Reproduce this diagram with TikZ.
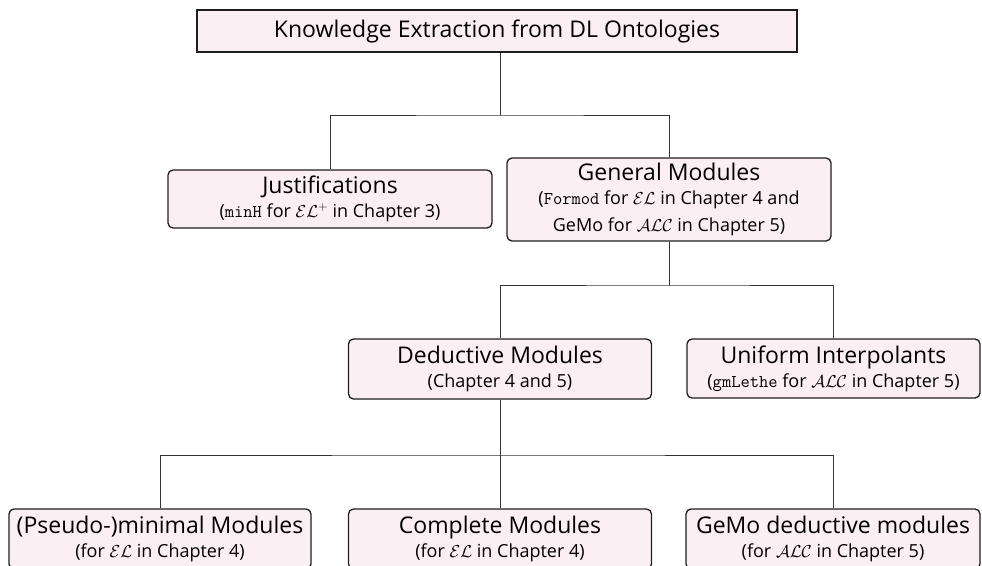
\documentclass[tikz,border=0pt]{standalone}
\usepackage{fontspec}
\setmainfont{Open Sans}
\definecolor{boxfill}{RGB}{251,239,243}
\definecolor{boxline}{RGB}{30,30,30}
\newcommand{\subfont}{\fontsize{18}{23}\selectfont}
\begin{document}
\begin{tikzpicture}[x=1pt,y=-1pt,
  box/.style={draw=boxline,line width=1.3pt,fill=boxfill,rounded corners=5pt,
    inner sep=0pt,align=center,font=\fontsize{23}{27}\selectfont},
  topbox/.style={box,rounded corners=0pt},
  conn/.style={draw=black!80,line width=0.9pt}]
\useasboundingbox (0,0) rectangle (982,565);
\clip (0,0) rectangle (982,565);
\node[topbox,minimum width=600pt,minimum height=42pt] (top) at (497,31) {Knowledge Extraction from DL Ontologies};
\node[box,minimum width=324pt,minimum height=58pt] (just) at (330,199)
  {Justifications\\[-3pt]\subfont(\texttt{minH} for $\mathcal{EL}^+$ in Chapter 3)};
\node[box,minimum width=324pt,minimum height=83pt] (gen) at (669,199.5)
  {General Modules\\[-3pt]\subfont(\texttt{Formod} for $\mathcal{EL}$ in Chapter 4 and\\\subfont GeMo for $\mathcal{ALC}$ in Chapter 5)};
\node[box,minimum width=303pt,minimum height=60pt] (ded) at (500,369)
  {Deductive Modules\\[-3pt]\subfont(Chapter 4 and 5)};
\node[box,minimum width=293pt,minimum height=59pt] (uni) at (833.5,368.5)
  {Uniform Interpolants\\[-3pt]\subfont(\texttt{gmLethe} for $\mathcal{ALC}$ in Chapter 5)};
\node[box,minimum width=302pt,minimum height=60pt] (pseudo) at (160,539)
  {(Pseudo-)minimal Modules\\[-3pt]\subfont(for $\mathcal{EL}$ in Chapter 4)};
\node[box,minimum width=303pt,minimum height=60pt] (comp) at (500,539)
  {Complete Modules\\[-3pt]\subfont(for $\mathcal{EL}$ in Chapter 4)};
\node[box,minimum width=294pt,minimum height=60pt] (gemo) at (833,539)
  {GeMo deductive modules\\[-3pt]\subfont(for $\mathcal{ALC}$ in Chapter 5)};
\coordinate (b1) at (500,115);
\coordinate (b2) at (669,285);
\coordinate (b3) at (500,455);
\draw[conn] (top.south -| b1) -- (b1);
\draw[conn] (just.north) |- (b1) -| (gen.north);
\draw[conn] (gen.south) -- (b2);
\draw[conn] (ded.north) |- (b2) -| (uni.north);
\draw[conn] (ded.south) -- (b3);
\draw[conn] (pseudo.north) |- (b3) -| (gemo.north);
\draw[conn] (comp.north) -- (comp.north |- b3);
\end{tikzpicture}
\end{document}
